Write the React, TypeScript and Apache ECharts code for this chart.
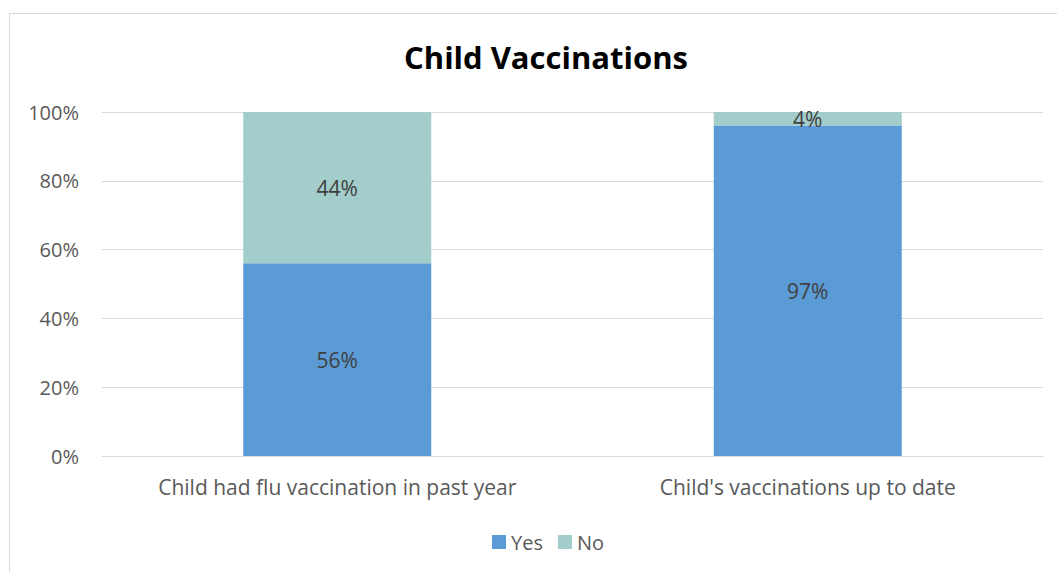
import React, { useEffect, useRef } from "react";
import * as echarts from "echarts";

const categories = ["Child had flu vaccination in past year", "Child's vaccinations up to date"];
const yesValues = [56, 97];
const noValues = [44, 4];
const yTicks = [0, 20, 40, 60, 80, 100];

export default function App() {
  const ref = useRef<HTMLDivElement>(null);
  useEffect(() => {
    document.body.style.margin = "0";
    const chart = echarts.init(ref.current!, null, { renderer: "svg" });
    const totals = yesValues.map((v, i) => v + noValues[i]);
    const yesShare = yesValues.map((v, i) => ({ value: (v / totals[i]) * 100, raw: v }));
    const noShare = noValues.map((v, i) => ({ value: (v / totals[i]) * 100, raw: v }));
    const font = "'Open Sans', 'Noto Sans', sans-serif";
    const labelCfg = {
      show: true,
      position: "inside",
      color: "#404040",
      fontSize: 21,
      fontFamily: font,
      formatter: (p: any) => `${p.data.raw}%`,
    };
    chart.setOption({
      animation: false,
      backgroundColor: "#ffffff",
      title: {
        text: "Child Vaccinations",
        left: 399,
        top: 36,
        textStyle: { fontSize: 31, fontWeight: "bold", color: "#000000", fontFamily: font },
      },
      graphic: [
        {
          type: "rect",
          shape: { x: 9.5, y: 13.5, width: 1100, height: 600 },
          style: { fill: "none", stroke: "#d9d9d9", lineWidth: 1 },
          silent: true,
          z: -10,
        },
      ],
      legend: {
        bottom: 15,
        left: 487,
        itemWidth: 14,
        itemHeight: 14,
        itemGap: 15,
        icon: "rect",
        textStyle: { fontSize: 20, color: "#595959", fontFamily: font },
        data: ["Yes", "No"],
      },
      grid: { left: 102, right: 14, top: 112, bottom: 116, containLabel: false },
      xAxis: {
        type: "category",
        data: categories,
        axisLine: { lineStyle: { color: "#d9d9d9" } },
        axisTick: { show: false },
        axisLabel: { fontSize: 21, color: "#595959", fontFamily: font, margin: 20 },
      },
      yAxis: {
        type: "value",
        min: yTicks[0],
        max: yTicks[yTicks.length - 1],
        interval: 20,
        axisLine: { show: false },
        axisTick: { show: false },
        splitLine: { lineStyle: { color: "#d9d9d9", width: 1 } },
        axisLabel: {
          fontSize: 20,
          color: "#595959",
          fontFamily: font,
          margin: 23,
          formatter: (v: number) => `${v}%`,
        },
      },
      series: [
        {
          name: "Yes",
          type: "bar",
          stack: "total",
          barWidth: 188,
          itemStyle: { color: "#5B9BD5" },
          label: labelCfg,
          data: yesShare,
        },
        {
          name: "No",
          type: "bar",
          stack: "total",
          barWidth: 188,
          itemStyle: { color: "#A2CDCA" },
          label: labelCfg,
          data: noShare,
        },
      ],
    });
    return () => chart.dispose();
  }, []);
  return <div ref={ref} style={{ position: "absolute", left: 0, top: 0, width: 1057, height: 572 }} />;
}
